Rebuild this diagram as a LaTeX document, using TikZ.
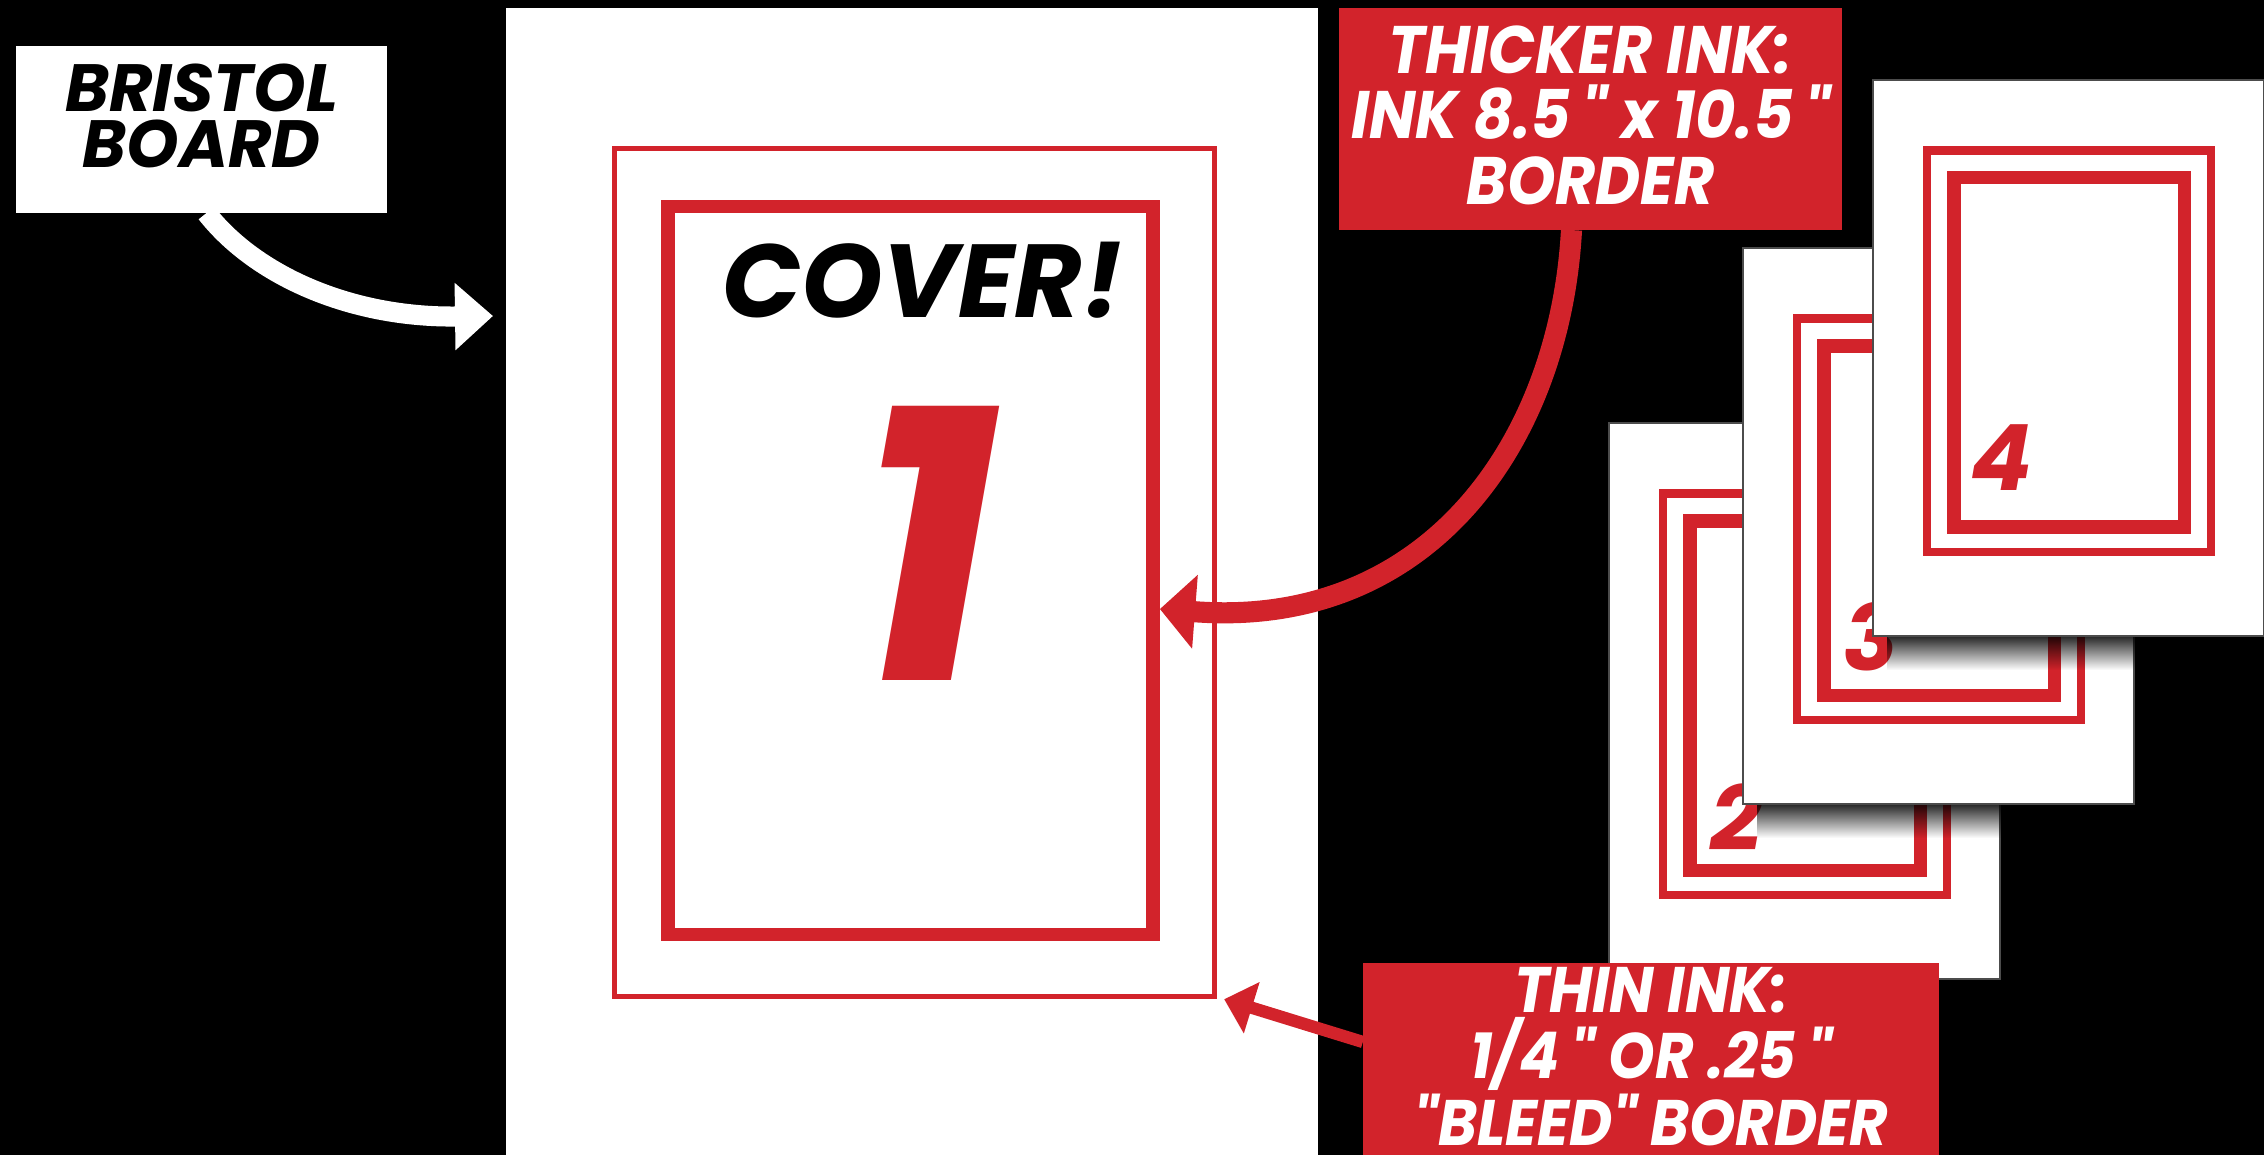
\documentclass[tikz,border=0pt]{standalone}
\usepackage{fontspec}
\setmainfont{Poppins}
\newfontfamily\narrowfont{Poppins}[FakeStretch=0.92]
\definecolor{inkred}{RGB}{210,35,43}
\usetikzlibrary{arrows.meta,positioning,calc,fadings}

\tikzset{
  labelbox/.style={inner sep=0pt,outer sep=0pt,align=center},
  redbox/.style={labelbox,fill=inkred,text=white},
  inkframe/.style={draw=inkred,inner sep=0pt},
}

%% small stacked page: top-left x, y, number, number baseline
\newcommand{\pagesheet}[4]{%
  \fill[white,draw=black!70,line width=0.6pt] (#1,#2) rectangle ++(391,556);
  \draw[inkred,line width=2.28pt] (#1+54,#2+70.5) rectangle (#1+338,#2+472);
  \draw[inkred,line width=3.84pt] (#1+80.75,#2+97.75) rectangle (#1+311.25,#2+447.25);
  \node[text=inkred,anchor=base,font=\fontsize{26pt}{26pt}\selectfont\bfseries\itshape]
    (n#3) at (#1+128,#2+#4) {#3};
}
%% shadow a page casts on the one below it
\newcommand{\pageshadow}[2]{%
  \fill[black,fill opacity=0.85,path fading=south] (#1+14,#2+556) rectangle (#1+391,#2+590);
}

\begin{document}
\begin{tikzpicture}[x=0.01cm,y=-0.01cm]
  \useasboundingbox (0,0) rectangle (2264,1155);
  \clip (0,0) rectangle (2264,1155);
  \fill[black] (0,0) rectangle (2264,1155);

  %% Bristol board with its cover page
  \node[fill=white,minimum width=8.12cm,minimum height=12cm,anchor=north,inner sep=0pt,outer sep=0pt]
        (board) at (912,8) {};
  \node[inkframe,line width=1.42pt,minimum width=6cm,minimum height=8.48cm]
        (thin1) at (914.5,572.5) {};
  \node[inkframe,line width=3.84pt,minimum width=4.85cm,minimum height=7.275cm]
        (thick1) at (910.5,570.5) {};
  \node[anchor=base,font=\fontsize{29.5pt}{29.5pt}\selectfont\bfseries\itshape]
        (cover) at (922.5,318) {COVER!};
  \node[anchor=base,text=inkred,font=\fontsize{110pt}{110pt}\selectfont\bfseries\itshape]
        (one) at (926.5,680) {1};

  %% Stack of inside pages
  \pagesheet{1609}{423}{2}{427}
  \pageshadow{1743}{248}
  \pagesheet{1743}{248}{3}{422}
  \pageshadow{1873}{80}
  \pagesheet{1873}{80}{4}{410}

  %% Label boxes
  \node[labelbox,fill=white,text=black,minimum width=3.71cm,minimum height=1.67cm,
        font=\fontsize{19pt}{15.9pt}\selectfont\bfseries\itshape]
        (bristol) at (201.5,129.5) {BRISTOL\\BOARD\rule[-0.27cm]{0pt}{0pt}};
  \node[redbox,minimum width=5.03cm,minimum height=2.22cm,
        font=\fontsize{19.1pt}{18.6pt}\narrowfont\bfseries\itshape]
        (thicker) at (1590.5,119) {THICKER INK:\\INK 8.5\," x 10.5\,"\\BORDER\rule[-0.08cm]{0pt}{0pt}};
  \node[redbox,minimum width=5.76cm,minimum height=2cm,
        font=\fontsize{18.3pt}{15.9pt}\narrowfont\bfseries\itshape]
        (thin) at (1651,1063) {THIN INK:\\1/4\," OR .25\,"\\"BLEED" BORDER\rule[-0.13cm]{0pt}{0pt}};

  %% Arrow targets
  \coordinate (boardin) at (493,316);
  \coordinate (thicktip) at ([yshift=-0.385cm]thick1.east);
  \coordinate (thintip) at ([xshift=0.07cm]thin1.south east);

  %% Arrows
  \draw[white,line width=5.7pt,-{Triangle[length=10.8pt,width=18.5pt]}]
        ([xshift=0.05cm]bristol.south) .. controls (255,275) and (350,318) .. (boardin);
  \draw[inkred,line width=6pt,-{Triangle[length=10pt,width=20.5pt]}]
        ([xshift=-0.19cm]thicker.south) .. controls (1560,440) and (1430,630) .. (thicktip);
  \draw[inkred,line width=3.5pt,-{Triangle[length=8.2pt,width=14.8pt]}]
        ([yshift=0.21cm]thin.west) -- (thintip);
\end{tikzpicture}
\end{document}
